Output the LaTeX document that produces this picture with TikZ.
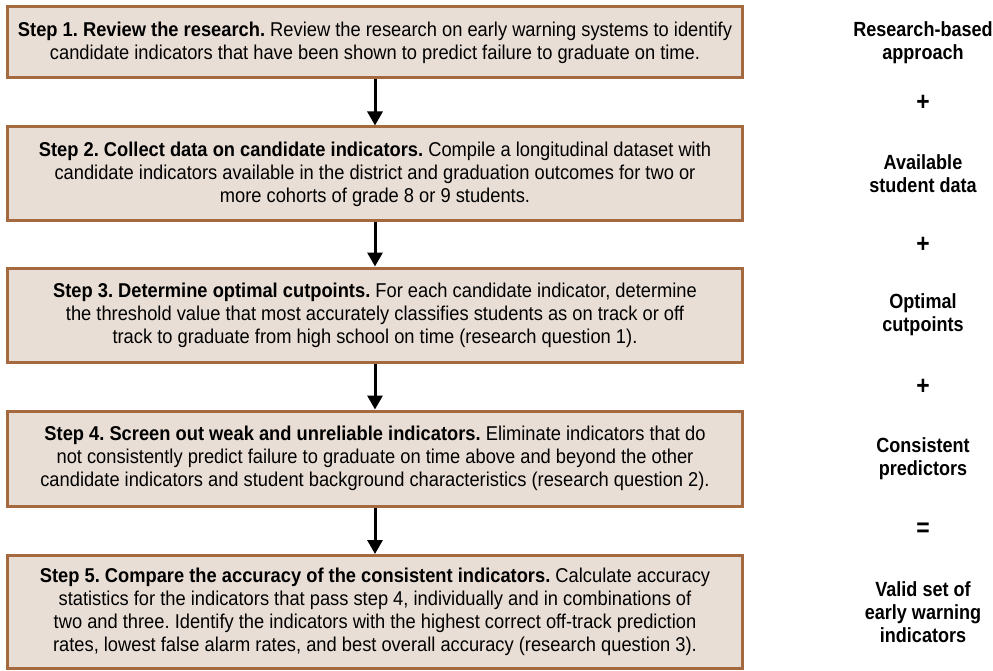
\documentclass[tikz,border=0pt]{standalone}
\usepackage{fontspec}
\setmainfont{Liberation Sans}
\newfontfamily\boxfont[FakeStretch=0.915]{Liberation Sans}
\newfontfamily\sidefont[FakeStretch=0.88]{Liberation Sans}
\usetikzlibrary{arrows.meta}
\definecolor{boxfill}{HTML}{E9DED5}
\definecolor{boxline}{HTML}{A5693F}
\tikzset{
  stepbox/.style={draw=boxline, fill=boxfill, line width=3pt, minimum width=735pt,
    align=center, inner sep=0pt, font=\boxfont\frenchspacing\fontsize{20}{23}\selectfont},
  flowarrow/.style={draw=black, line width=3pt, -{Triangle[width=15pt,length=14pt]}},
  sidetext/.style={align=center, inner sep=0pt, font=\sidefont\bfseries\fontsize{20.5}{23}\selectfont},
  opsign/.style={inner sep=0pt, font=\sidefont\bfseries\fontsize{26}{26}\selectfont},
}
\begin{document}
\begin{tikzpicture}[x=1pt,y=-1pt]
\useasboundingbox (0,0) rectangle (993,671);
\node[stepbox, minimum height=71pt] (b1) at (375,42.5) {\textbf{Step 1. Review the research.} Review the research on early warning systems to identify\\ candidate indicators that have been shown to predict failure to graduate on time.};
\node[stepbox, minimum height=94pt] (b2) at (375,174) {\textbf{Step 2. Collect data on candidate indicators.} Compile a longitudinal dataset with\\ candidate indicators available in the district and graduation outcomes for two or\\ more cohorts of grade 8 or 9 students.};
\node[stepbox, minimum height=94pt] (b3) at (375,315) {\textbf{Step 3. Determine optimal cutpoints.} For each candidate indicator, determine\\ the threshold value that most accurately classifies students as on track or off\\ track to graduate from high school on time (research question 1).};
\node[stepbox, minimum height=95pt] (b4) at (375,458.5) {\textbf{Step 4. Screen out weak and unreliable indicators.} Eliminate indicators that do\\ not consistently predict failure to graduate on time above and beyond the other\\ candidate indicators and student background characteristics (research question 2).};
\node[stepbox, minimum height=113pt] (b5) at (375,612) {\textbf{Step 5. Compare the accuracy of the consistent indicators.} Calculate accuracy\\ statistics for the indicators that pass step 4, individually and in combinations of\\ two and three. Identify the indicators with the highest correct off-track prediction\\ rates, lowest false alarm rates, and best overall accuracy (research question 3).};
\draw[flowarrow] (b1.south) -- (b2.north);
\draw[flowarrow] (b2.south) -- (b3.north);
\draw[flowarrow] (b3.south) -- (b4.north);
\draw[flowarrow] (b4.south) -- (b5.north);
\node[sidetext] (s1) at (923,42.5) {Research-based\\approach};
\node[opsign] (p1) at (923,103) {+};
\node[sidetext] (s2) at (923,174) {Available\\student data};
\node[opsign] (p2) at (923,245) {+};
\node[sidetext] (s3) at (923,315) {Optimal\\cutpoints};
\node[opsign] (p3) at (923,387) {+};
\node[sidetext] (s4) at (923,458.5) {Consistent\\predictors};
\node[opsign] (e1) at (923,530) {=};
\node[sidetext] (s5) at (923,612) {Valid set of\\early warning\\indicators};
\end{tikzpicture}
\end{document}
